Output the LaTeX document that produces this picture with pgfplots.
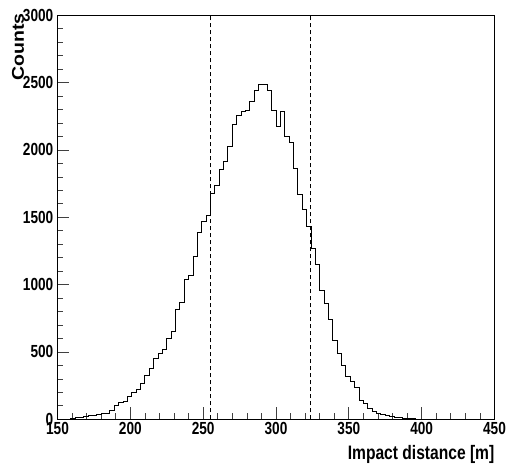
\documentclass[border=0pt]{standalone}
\usepackage{fontspec}
\usepackage{pgfplots}
\pgfplotsset{compat=1.18}
\setmainfont{Liberation Sans}
\newfontfamily\tickfont{Liberation Sans}[FakeStretch=0.78]
\newfontfamily\titlefont{Liberation Sans}[FakeStretch=0.8]
\newfontfamily\countsfont{Liberation Sans}[FakeStretch=1.15]
\pgfplotstableread{
x y
150 0
153 0
156 2
159 6
162 12
165 16
168 20
171 25
174 30
177 34
180 40
183 46
186 62
189 100
192 122
195 136
198 168
201 196
204 222
207 267
210 329
213 378
216 453
219 490
222 515
225 600
228 651
231 812
234 868
237 1042
240 1071
243 1207
246 1386
249 1467
252 1516
255 1678
258 1739
261 1856
264 1918
267 2029
270 2192
273 2259
276 2284
279 2296
282 2358
285 2440
288 2490
291 2485
294 2445
297 2291
300 2178
303 2284
306 2098
309 2054
312 1863
315 1672
318 1559
321 1430
324 1269
327 1150
330 960
333 863
336 740
339 589
342 490
345 400
348 320
351 280
354 235
357 143
360 115
363 80
366 60
369 43
372 36
375 28
378 20
381 14
384 11
387 8
390 9
393 5
396 2
399 1
402 0
405 0
408 0
411 0
414 0
417 0
420 0
423 0
426 0
429 0
432 0
435 0
438 0
441 0
444 0
447 0
450 0
}\histdata
\begin{document}
\begin{tikzpicture}
\useasboundingbox (-57.5pt,-50.7pt) rectangle (451.5pt,419.3pt);
\begin{axis}[
  scale only axis, width=437pt, height=404pt,
  xmin=150, xmax=450, ymin=0, ymax=3000,
  xtick={150,200,...,450}, ytick={0,500,...,3000},
  minor x tick num=4, minor y tick num=4,
  tick align=inside, tick pos=left,
  major tick length=12pt, minor tick length=6pt,
  every tick/.style={black!75, line width=0.7pt},
  axis line style={line width=0.9pt},
  scaled ticks=false,
  /pgf/number format/assume math mode=true,
  /pgf/number format/1000 sep={},
  tick label style={font=\tickfont\bfseries\fontsize{17.5}{17.5}\selectfont},
  xticklabel style={anchor=north, inner sep=0pt, yshift=-3pt},
  yticklabel style={anchor=east, inner sep=0pt, xshift=-4pt},
  xlabel={Impact distance [m]},
  xlabel style={at={(axis description cs:1,0)}, anchor=north east, inner sep=0pt, yshift=-25.5pt, font=\titlefont\bfseries\fontsize{19.5}{19.5}\selectfont},
  ylabel={Counts},
  ylabel style={at={(axis description cs:-0.0767,1.005)}, anchor=base east, inner sep=0pt, font=\countsfont\bfseries\fontsize{17}{17}\selectfont},
]
\addplot[black, line width=0.7pt, dash pattern=on 4pt off 3pt] coordinates {(254.8,0) (254.8,3000)};
\addplot[black, line width=0.7pt, dash pattern=on 4pt off 3pt] coordinates {(323.6,0) (323.6,3000)};
\addplot[const plot, black, line width=0.9pt] table[x=x, y=y] {\histdata};
\end{axis}
\end{tikzpicture}
\end{document}
